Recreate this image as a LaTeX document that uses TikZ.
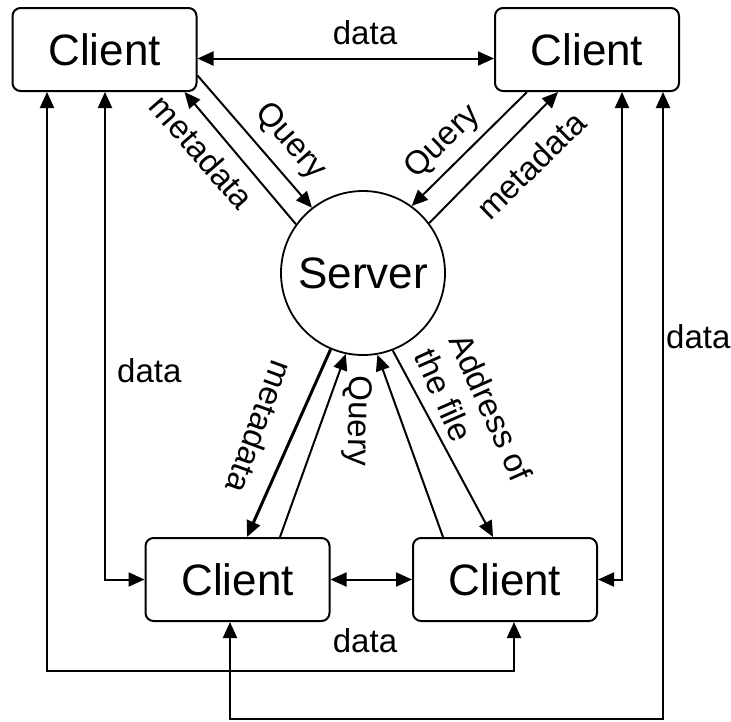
\documentclass[tikz,border=0pt]{standalone}
\usepackage{fontspec}
\setmainfont{Liberation Sans}
\usetikzlibrary{arrows.meta}
\begin{document}
\begin{tikzpicture}[x=1pt,y=-1pt,
  client/.style={draw, line width=2pt, rounded corners=8pt, minimum width=184pt,
    minimum height=83pt, inner sep=0pt, font=\fontsize{44}{50}\selectfont},
  server/.style={draw, circle, line width=1.8pt, minimum size=164pt, inner sep=0pt,
    font=\fontsize{44}{50}\selectfont},
  link/.style={line width=2pt, -{Triangle[length=16pt,width=14pt]}},
  dlink/.style={line width=2pt, {Triangle[length=16pt,width=14pt]}-{Triangle[length=16pt,width=14pt]}},
  lbl/.style={font=\fontsize{33}{38}\selectfont, inner sep=0pt},
]
\useasboundingbox (0,0) rectangle (731,721);

% clients and server
\node[client] (TL) at (104.5,49.5) {Client};
\node[client] (TR) at (587,49.5) {Client};
\node[client] (BL) at (237.5,579.5) {Client};
\node[client] (BR) at (505,579.5) {Client};
\node[server] (S) at (363,273) {Server};

% data link between the two upper clients
\draw[dlink] ([yshift=-9pt]TL.east) -- ([yshift=-9pt]TR.west);
\node[lbl, anchor=base] (dtop) at (365,44) {data};

% queries and metadata, upper clients
\draw[link] ([yshift=-26pt]TL.east) -- (S.128);
\draw[link] (S.144) -- ([xshift=80pt]TL.south);
\draw[link] ([xshift=-60pt]TR.south) -- (S.54);
\draw[link] (S.37) -- ([xshift=-29pt]TR.south);
\node[lbl, rotate=-49] (mtl) at (202,152) {metadata};
\node[lbl, rotate=-48.5] (qtl) at (290,142) {Query};
\node[lbl, rotate=44] (qtr) at (443,142) {Query};
\node[lbl, rotate=44.4] (mtr) at (531,165) {metadata};

% queries, metadata and file address, lower clients
\draw[link, line width=3pt] (S.247) -- ([xshift=9.5pt]BL.north);
\draw[link] ([xshift=42.5pt]BL.north) -- (S.258);
\draw[link] ([xshift=-62pt]BR.north) -- (S.280);
\draw[link] (S.291) -- ([xshift=-12pt]BR.north);
\node[lbl, rotate=-110] (mbl) at (260,427) {metadata};
\node[lbl, rotate=-91] (qb) at (357,421) {Query};
\node[lbl, rotate=-66, align=left] (addr) at (474,415) {Address of\\the file};

% data links between upper and lower clients
\coordinate (y1) at (0,671);
\coordinate (y2) at (0,719);
\coordinate (a1) at ([xshift=-57.5pt]TL.south);
\coordinate (b1) at ([xshift=9pt]BR.south);
\coordinate (a2) at ([xshift=76pt]TR.south);
\coordinate (b2) at ([xshift=-7.5pt]BL.south);
\draw[dlink] (a1) -- (a1 |- y1) -- (b1 |- y1) -- (b1);
\draw[dlink] ([xshift=0.5pt]TL.south) |- (BL.west);
\draw[dlink] ([xshift=35pt]TR.south) |- (BR.east);
\draw[dlink] (a2) -- (a2 |- y2) -- (b2 |- y2) -- (b2);
\draw[dlink] (BL.east) -- (BR.west);

\node[lbl, anchor=base west] (dl) at (117,382) {data};
\node[lbl, anchor=base west] (dr) at (666,348) {data};
\node[lbl, anchor=base] (db) at (365,652) {data};
\end{tikzpicture}
\end{document}
